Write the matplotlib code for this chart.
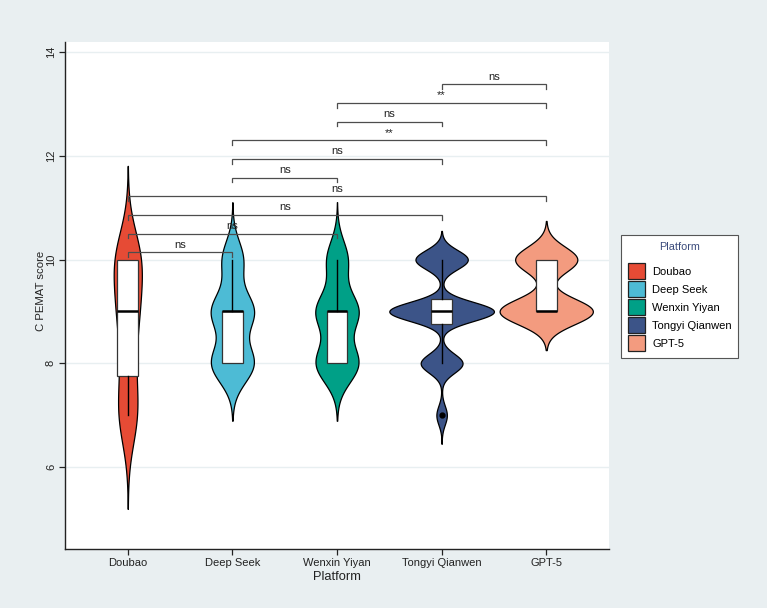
import numpy as np
import matplotlib
matplotlib.use('Agg')
import matplotlib.pyplot as plt
from matplotlib.patches import Patch

plt.rcParams['font.family'] = ['Liberation Sans', 'DejaVu Sans']

# data: number of ratings at each score level, per platform
platforms = ['Doubao', 'Deep Seek', 'Wenxin Yiyan', 'Tongyi Qianwen', 'GPT-5']
scores = [7, 8, 9, 10]
counts_doubao = [5, 3, 5, 7]
counts_deepseek = [0, 8, 8, 4]
counts_wenxin = [0, 8, 8, 4]
counts_tongyi = [1, 4, 10, 5]
counts_gpt5 = [0, 0, 12, 8]
colors = ['#E64B35', '#4DBBD5', '#00A087', '#3C5488', '#F39B7F']

# pairwise comparisons (1-based platform index) and their labels
sig_pairs = [(1, 2), (1, 3), (1, 4), (1, 5), (2, 3), (2, 4), (2, 5), (3, 4), (3, 5), (4, 5)]
sig_labels = ['ns', 'ns', 'ns', 'ns', 'ns', 'ns', '**', 'ns', '**', 'ns']

all_counts = [counts_doubao, counts_deepseek, counts_wenxin, counts_tongyi, counts_gpt5]
groups = [np.repeat(scores, c).astype(float) for c in all_counts]


def bw_nrd0(x):
    sd = np.std(x, ddof=1)
    iqr = np.subtract(*np.percentile(x, [75, 25]))
    lo = min(sd, iqr / 1.34)
    return 0.9 * lo * len(x) ** -0.2


def kde(x, bw):
    grid = np.linspace(x.min() - 3 * bw, x.max() + 3 * bw, 512)
    d = np.exp(-0.5 * ((grid[:, None] - x[None, :]) / bw) ** 2).sum(axis=1)
    d /= len(x) * bw * np.sqrt(2 * np.pi)
    return grid, d


dens = [kde(g, bw_nrd0(g)) for g in groups]
dmax = max(d.max() for _, d in dens)

bg = '#E9EFF1'
fig = plt.figure(figsize=(7.67, 6.08), dpi=100, facecolor=bg)
ax = fig.add_axes([65 / 767, 1 - 549 / 608, 544 / 767, (549 - 42.3) / 608])
ax.set_facecolor('white')

for i, (grid, d) in enumerate(dens):
    x = i + 1
    hw = d / dmax * 0.5
    ax.fill_betweenx(grid, x - hw, x + hw, facecolor=colors[i],
                     edgecolor='black', linewidth=0.9, zorder=2)

ax.boxplot(groups, positions=np.arange(1, 6), widths=0.2, whis=1.5,
           patch_artist=True, showcaps=False, manage_ticks=False,
           boxprops=dict(facecolor='white', edgecolor='#333333', linewidth=0.9),
           medianprops=dict(color='black', linewidth=1.8),
           whiskerprops=dict(color='black', linewidth=1.0),
           flierprops=dict(marker='o', markerfacecolor='black', markeredgecolor='black',
                           markersize=3.5),
           zorder=3)

# significance brackets
base, step, tick = 10.14, 0.36, 0.09
for k, ((a, b), lab) in enumerate(zip(sig_pairs, sig_labels)):
    y = base + k * step
    ax.plot([a, a, b, b], [y - tick, y, y, y - tick], color='#4D4D4D',
            linewidth=0.9, zorder=4, solid_joinstyle='miter')
    ax.text((a + b) / 2, y + 0.09, lab, ha='center', va='baseline',
            fontsize=8, color='#222222', zorder=5)

ax.set_xlim(0.4, 5.6)
ax.set_ylim(4.42, 14.19)
ax.set_xticks(np.arange(1, 6))
ax.set_xticklabels(platforms)
ax.set_yticks([6, 8, 10, 12, 14])
ax.yaxis.grid(True, color='#E8EFF1', linewidth=1.0, zorder=0)
ax.set_axisbelow(True)
for s in ['top', 'right']:
    ax.spines[s].set_visible(False)
for s in ['left', 'bottom']:
    ax.spines[s].set_color('#222222')
    ax.spines[s].set_linewidth(1.0)
ax.tick_params(axis='both', length=4.5, width=0.9, color='#222222',
               labelsize=8, labelcolor='#222222')
ax.tick_params(axis='x', pad=2)
ax.tick_params(axis='y', pad=2)
for t in ax.get_yticklabels():
    t.set_rotation(90)
    t.set_va('center')
ax.set_xlabel('Platform', fontsize=9.3, color='#222222', labelpad=2)
ax.set_ylabel('C PEMAT score', fontsize=8.2, color='#222222')
ax.yaxis.set_label_coords(-0.035, 0.51)

handles = [Patch(facecolor=c, edgecolor='#222222', linewidth=0.9) for c in colors]
leg = fig.legend(handles, platforms, title='Platform', loc='upper left',
                 bbox_to_anchor=(621 / 767, 1 - 235 / 608), borderaxespad=0,
                 fontsize=8, title_fontsize=7.8, frameon=True, fancybox=False,
                 framealpha=1, facecolor='white',
                 edgecolor='#555555', handlelength=1.6, handleheight=1.93,
                 labelspacing=0.12, handletextpad=0.6, borderpad=0.6)
leg.get_frame().set_linewidth(0.8)
leg.get_title().set_color('#3C4C7C')
leg._legend_box.sep = 8  # more room under the title

fig.savefig('out.png', dpi=100, facecolor=bg)
